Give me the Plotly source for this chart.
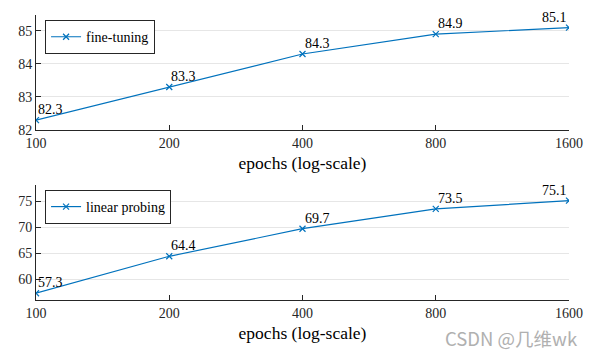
import math
import plotly.graph_objects as go
from plotly.subplots import make_subplots

epochs = [100, 200, 400, 800, 1600]
fine_tuning = [82.3, 83.3, 84.3, 84.9, 85.1]
linear_probing = [57.3, 64.4, 69.7, 73.5, 75.1]
tick_labels = ["100", "200", "400", "800", "1600"]

BLUE = "#0072BD"
AXC = "#262626"
FONT = "Liberation Serif"

fig = make_subplots(rows=2, cols=1, vertical_spacing=0.193)

fig.add_trace(go.Scatter(x=epochs, y=fine_tuning, mode="lines+markers", name="fine-tuning",
                         line=dict(color=BLUE, width=1.2),
                         marker=dict(symbol="x-thin", size=6, line=dict(color=BLUE, width=1.2)),
                         legend="legend"), row=1, col=1)
fig.add_trace(go.Scatter(x=epochs, y=linear_probing, mode="lines+markers", name="linear probing",
                         line=dict(color=BLUE, width=1.2),
                         marker=dict(symbol="x-thin", size=6, line=dict(color=BLUE, width=1.2)),
                         legend="legend2"), row=2, col=1)

for xr, yr, series in (("x", "y", fine_tuning), ("x2", "y2", linear_probing)):
    for i, (x, y) in enumerate(zip(epochs, series)):
        last = i == len(epochs) - 1
        fig.add_annotation(x=math.log10(x), y=y, xref=xr, yref=yr, text=f"{y}", showarrow=False,
                           xanchor="right" if last else "left", yanchor="bottom", yshift=1,
                           xshift=0, font=dict(family=FONT, size=14, color="#000"))

axis_common = dict(showline=True, linecolor=AXC, linewidth=1, mirror=False,
                   ticks="inside", ticklen=5, tickcolor=AXC, automargin=False,
                   tickfont=dict(family=FONT, size=14, color=AXC), zeroline=False)

for r in (1, 2):
    fig.update_xaxes(type="log", range=[2, math.log10(1600)], tickvals=epochs, ticktext=tick_labels,
                     showgrid=False,
                     title=dict(text="epochs (log-scale)", font=dict(family=FONT, size=17.5, color="#000"),
                                standoff=6),
                     row=r, col=1, **axis_common)

fig.update_yaxes(range=[82, 85.48], tickvals=[82, 83, 84, 85], showgrid=True,
                 gridcolor="#e6e6e6", gridwidth=1, row=1, col=1, **axis_common)
fig.update_yaxes(range=[56, 78.1], tickvals=[60, 65, 70, 75], showgrid=True,
                 gridcolor="#e6e6e6", gridwidth=1, row=2, col=1, **axis_common)

fig.update_layout(
    width=595, height=360,
    margin=dict(l=28, r=34, t=7, b=68),
    plot_bgcolor="white", paper_bgcolor="white",
    showlegend=True,
    legend=dict(x=0.017, y=0.982, xanchor="left", yanchor="top",
                bordercolor=AXC, borderwidth=1, bgcolor="white",
                font=dict(family=FONT, size=14, color="#000"),
                itemwidth=30, tracegroupgap=0),
    legend2=dict(x=0.017, y=0.386, xanchor="left", yanchor="top",
                 bordercolor=AXC, borderwidth=1, bgcolor="white",
                 font=dict(family=FONT, size=14, color="#000"),
                 itemwidth=30, tracegroupgap=0),
)

fig.add_annotation(xref="paper", yref="paper", x=1.0206, y=-0.133, xanchor="right", yanchor="middle",
                   text="CSDN @几维wk", showarrow=False,
                   font=dict(family="Noto Sans CJK SC", size=18.5, color="#b0b0b0"))

fig.write_html("out.html")
